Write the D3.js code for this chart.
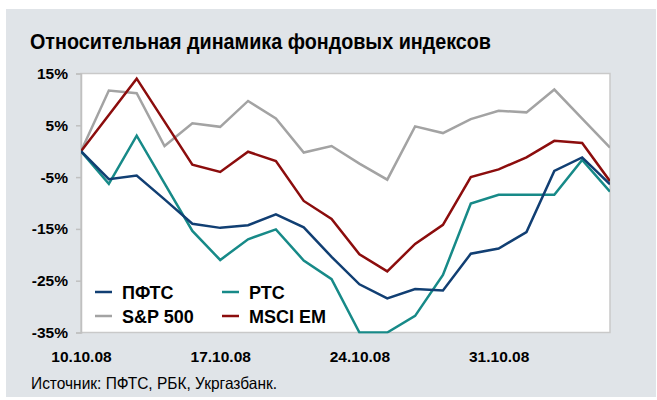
<!DOCTYPE html>
<html><head><meta charset="utf-8">
<script src="https://cdn.jsdelivr.net/npm/d3@7/dist/d3.min.js"></script>
<style>
html,body{margin:0;padding:0;background:#fff;}
svg{display:block;}
</style></head>
<body>
<svg id="chart" width="657" height="400"></svg>
<script>
const dates = ["10.10.08","13.10.08","14.10.08","15.10.08","16.10.08","17.10.08",
  "20.10.08","21.10.08","22.10.08","23.10.08","24.10.08",
  "27.10.08","28.10.08","29.10.08","30.10.08","31.10.08",
  "03.11.08","04.11.08","05.11.08","06.11.08"];
const xTickLabels = ["10.10.08","17.10.08","24.10.08","31.10.08"];
const yTicks = [15,5,-5,-15,-25,-35];
const pfts  = [0,-5.4,-4.7,-9.3,-14.0,-14.8,-14.3,-12.2,-14.7,-20.4,-25.7,-28.4,-26.6,-26.9,-19.8,-18.8,-15.6,-3.8,-1.2,-6.4];
const rts   = [0,-6.3,3.0,-6.2,-15.4,-21.0,-17.0,-15.1,-21.1,-24.7,-35.0,-35.0,-31.8,-23.9,-10.1,-8.4,-8.4,-8.4,-1.7,-7.8];
const sp500 = [0,11.7,11.2,1.0,5.4,4.7,9.7,6.3,-0.25,1.0,-2.4,-5.5,4.8,3.5,6.2,7.8,7.5,11.9,6.3,0.7];
const msci  = [0,7.0,14.0,5.7,-2.6,-4.0,-0.1,-1.9,-9.6,-13.1,-19.9,-23.2,-17.9,-14.2,-5.0,-3.5,-1.2,2.0,1.6,-5.8];
const seriesNames = ["ПФТС","РТС","S&P 500","MSCI EM"];
const seriesColors = ["#113f73","#178a88","#a3a3a3","#8c0d0d"];
const seriesData = [pfts, rts, sp500, msci];

const svg = d3.select("#chart");
svg.append("rect").attr("x",6).attr("y",9).attr("width",650).attr("height",388).attr("fill","#e0e4e8");

svg.append("text").attr("x",30).attr("y",49)
  .attr("font-family","'Liberation Sans',Arial,sans-serif")
  .attr("font-weight","bold").attr("font-size",22).attr("fill","#000")
  .attr("textLength",461).attr("lengthAdjust","spacingAndGlyphs")
  .text("Относительная динамика фондовых индексов");

const L=81, R=610, T=73.5, B=332.5;
const x = d3.scalePoint().domain(dates).range([L,R]);
const y = d3.scaleLinear().domain([-35,15]).range([B,T]);

svg.append("rect").attr("x",L).attr("y",T).attr("width",R-L).attr("height",B-T)
  .attr("fill","#fff").attr("stroke","#c9c9c9").attr("stroke-width",1.5);

svg.append("clipPath").attr("id","clip").append("rect")
  .attr("x",L).attr("y",T-1).attr("width",R-L).attr("height",B-T+2);

const yAxis = svg.append("g").attr("transform",`translate(${L},0)`)
  .call(d3.axisLeft(y).tickValues(yTicks).tickFormat(d=>d+"%").tickSize(5).tickPadding(8));
yAxis.select(".domain").attr("stroke","#c0c0c0").attr("stroke-width",1.5);
yAxis.selectAll(".tick line").attr("stroke","#c0c0c0").attr("stroke-width",1.5);
yAxis.selectAll("text").attr("font-family","'Liberation Sans',Arial,sans-serif")
  .attr("font-weight","bold").attr("font-size",15.5).attr("fill","#000");

const xAxis = svg.append("g").attr("transform",`translate(0,${B})`)
  .call(d3.axisBottom(x).tickValues(xTickLabels).tickSize(0).tickPadding(18));
xAxis.select(".domain").remove();
xAxis.selectAll("text").attr("font-family","'Liberation Sans',Arial,sans-serif")
  .attr("font-weight","bold").attr("font-size",15.5).attr("fill","#000");

const line = d3.line().x((d,i)=>x(dates[i])).y(d=>y(d));
const order = [2,3,1,0];
order.forEach(k=>{
  svg.append("path").datum(seriesData[k]).attr("d",line)
    .attr("fill","none").attr("stroke",seriesColors[k]).attr("stroke-width",2.5)
    .attr("stroke-linejoin","miter").attr("clip-path","url(#clip)");
});

const legPos = [[95,292],[222,292],[95,316],[222,316]];
seriesNames.forEach((n,k)=>{
  const [lx,ly]=legPos[k];
  svg.append("line").attr("x1",lx).attr("x2",lx+17).attr("y1",ly).attr("y2",ly)
    .attr("stroke",seriesColors[k]).attr("stroke-width",2.5);
  svg.append("text").attr("x",lx+27).attr("y",ly+6.5)
    .attr("font-family","'Liberation Sans',Arial,sans-serif").attr("font-weight","bold")
    .attr("font-size",18).attr("fill","#000").text(n);
});

svg.append("text").attr("x",31).attr("y",389)
  .attr("font-family","'Liberation Sans',Arial,sans-serif")
  .attr("font-size",16.5).attr("fill","#000")
  .attr("textLength",246).attr("lengthAdjust","spacingAndGlyphs")
  .text("Источник: ПФТС, РБК, Укргазбанк.");
</script>
</body></html>
